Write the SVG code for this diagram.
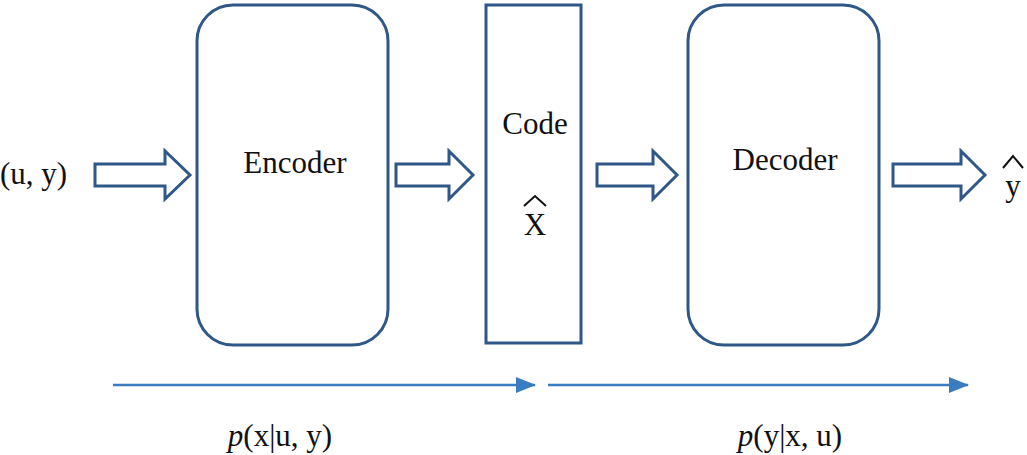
<svg xmlns="http://www.w3.org/2000/svg" width="1027" height="455" viewBox="0 0 1027 455">
<defs>
<style>
.box{fill:#fff;stroke:#2f5888;stroke-width:3}
.ha{fill:#fff;stroke:#2f5888;stroke-width:3;stroke-linejoin:miter}
.t{font-family:"Liberation Serif",serif;font-size:31px;fill:#111}
.ln{stroke:#3a7cc0;stroke-width:2.5;fill:none}
</style>
<marker id="ah" markerWidth="10" markerHeight="10" refX="9" refY="5" orient="auto" markerUnits="userSpaceOnUse" viewBox="0 0 10 10"><path d="M0,0 L10,5 L0,10 Z" fill="#3a7cc0"/></marker>
<marker id="ah2" markerWidth="20" markerHeight="16" refX="19" refY="8" orient="auto" markerUnits="userSpaceOnUse" viewBox="0 0 20 16"><path d="M0,0 L20,8 L0,16 Z" fill="#3a7cc0"/></marker>
</defs>
<rect width="1027" height="455" fill="#fff"/>
<g id="encoder"><rect class="box" x="197" y="5" width="191" height="340" rx="36"/><text class="t" x="295" y="173" text-anchor="middle">Encoder</text></g>
<g id="code"><rect class="box" x="486" y="5" width="95" height="338"/><text class="t" x="535" y="134" text-anchor="middle">Code</text><text class="t" x="535" y="235" text-anchor="middle" font-size="34">X</text><path d="M524,206 L535,196 L546,206" fill="none" stroke="#111" stroke-width="2"/></g>
<g id="decoder"><rect class="box" x="688" y="5" width="191" height="340" rx="36"/><text class="t" x="785" y="170" text-anchor="middle">Decoder</text></g>
<g id="labels">
<text class="t" x="0" y="184">(u, y)</text>
<text class="t" x="1013" y="196" text-anchor="middle" font-size="34">y</text><path d="M1003,168 L1013,156 L1023,168" fill="none" stroke="#111" stroke-width="2"/>
<text class="t" x="280" y="446" text-anchor="middle"><tspan font-style="italic">p</tspan>(x|u, y)</text>
<text class="t" x="790" y="446" text-anchor="middle"><tspan font-style="italic">p</tspan>(y|x, u)</text>
</g>
<g id="connectors">
<path class="ha" d="M95,164 H165 V151 L190,175 L165,199 V186 H95 Z"/>
<path class="ha" d="M396,164 H449 V151 L473,175 L449,199 V186 H396 Z"/>
<path class="ha" d="M597,164 H653 V151 L677,175 L653,199 V186 H597 Z"/>
<path class="ha" d="M893,164 H961 V151 L985,175 L961,199 V186 H893 Z"/>
<line class="ln" x1="113" y1="385" x2="535" y2="385" marker-end="url(#ah2)"/>
<line class="ln" x1="548" y1="385" x2="968" y2="385" marker-end="url(#ah2)"/>
</g>
</svg>
